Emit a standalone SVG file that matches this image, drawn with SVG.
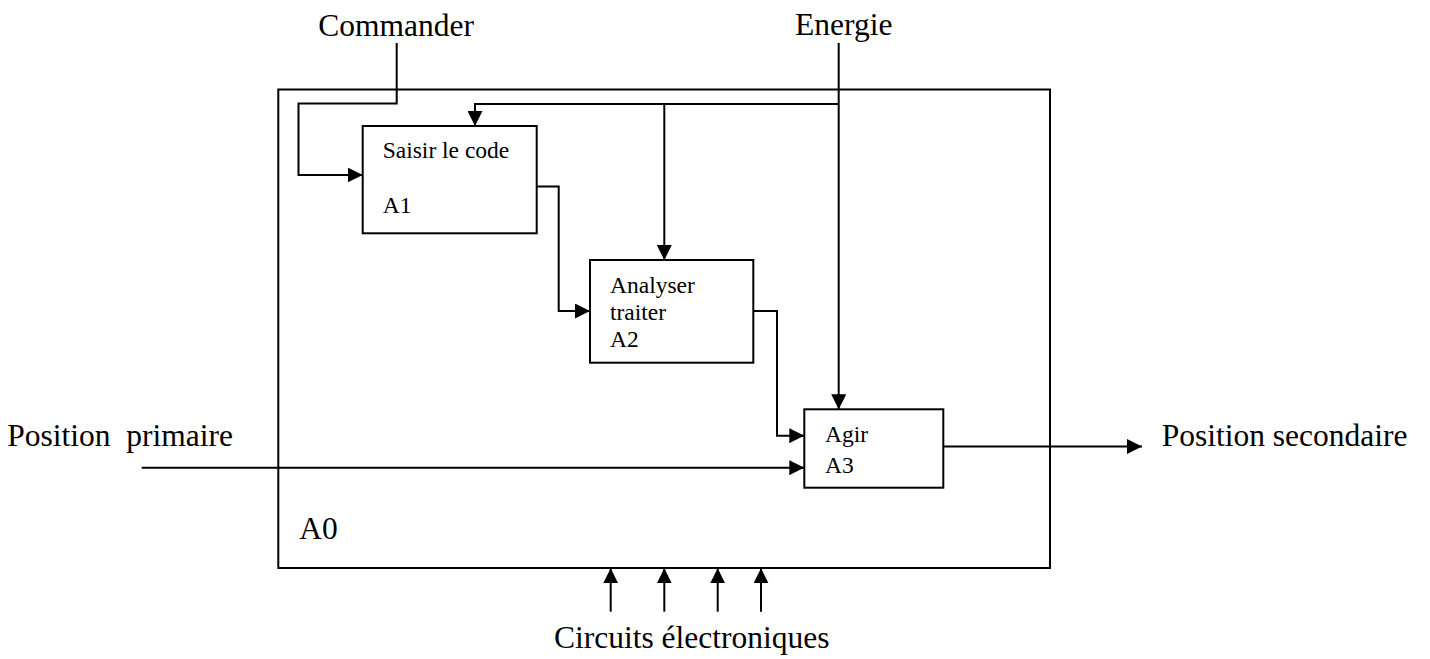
<svg xmlns="http://www.w3.org/2000/svg" width="1430" height="659" viewBox="0 0 1430 659">
<style>
.box{fill:none;stroke:#000;stroke-width:2}
.ln{fill:none;stroke:#000;stroke-width:2}
.big{font-family:"Liberation Serif","Times New Roman",serif;font-size:31.5px;fill:#000;white-space:pre}
.sm{font-family:"Liberation Serif","Times New Roman",serif;font-size:23.5px;fill:#000}
</style>
<defs>
<marker id="ah" markerUnits="userSpaceOnUse" markerWidth="15" markerHeight="15" refX="15" refY="7.5" orient="auto" viewBox="0 0 15 15">
<path d="M0,0 L15,7.5 L0,15 z" fill="#000"/>
</marker>
</defs>
<rect width="1430" height="659" fill="#fff"/>
<g id="A0">
<rect class="box" x="278.3" y="89.5" width="771.7" height="478.5"/>
<text class="big" x="299.3" y="539.3">A0</text>
</g>
<g id="A1">
<rect class="box" x="362.7" y="126" width="174" height="107.3"/>
<text class="sm" x="382.7" y="157.7">Saisir le code</text>
<text class="sm" x="382.7" y="213.3">A1</text>
</g>
<g id="A2">
<rect class="box" x="590" y="260" width="163.3" height="102.7"/>
<text class="sm" x="610" y="293.3">Analyser</text>
<text class="sm" x="610" y="320">traiter</text>
<text class="sm" x="610" y="347.3">A2</text>
</g>
<g id="A3">
<rect class="box" x="804.3" y="409.3" width="139" height="78.4"/>
<text class="sm" x="825" y="442.3">Agir</text>
<text class="sm" x="825" y="473.3">A3</text>
</g>
<g id="labels">
<text class="big" x="318.3" y="36">Commander</text>
<text class="big" x="795" y="35">Energie</text>
<text class="big" x="7.3" y="445.7" xml:space="preserve">Position  primaire</text>
<text class="big" x="1161.7" y="446">Position secondaire</text>
<text class="big" x="554" y="648">Circuits électroniques</text>
</g>
<g id="connectors">
<path class="ln" d="M396.7,43 V103.5 H298.5 V175 H362.7" marker-end="url(#ah)"/>
<path class="ln" d="M838.7,43 V409.3" marker-end="url(#ah)"/>
<path class="ln" d="M838.7,104 H475 V126" marker-end="url(#ah)"/>
<path class="ln" d="M664.3,104 V260" marker-end="url(#ah)"/>
<path class="ln" d="M536.7,186.5 H558.7 V311 H590" marker-end="url(#ah)"/>
<path class="ln" d="M753.3,311 H777 V435.7 H804.3" marker-end="url(#ah)"/>
<path class="ln" d="M141.7,467.7 H804.3" marker-end="url(#ah)"/>
<path class="ln" d="M943.3,446.5 H1142" marker-end="url(#ah)"/>
<path class="ln" d="M610.7,611.7 V568.3" marker-end="url(#ah)"/>
<path class="ln" d="M664.3,611.7 V568.3" marker-end="url(#ah)"/>
<path class="ln" d="M717.7,611.7 V568.3" marker-end="url(#ah)"/>
<path class="ln" d="M761,611.7 V568.3" marker-end="url(#ah)"/>
</g>
</svg>
